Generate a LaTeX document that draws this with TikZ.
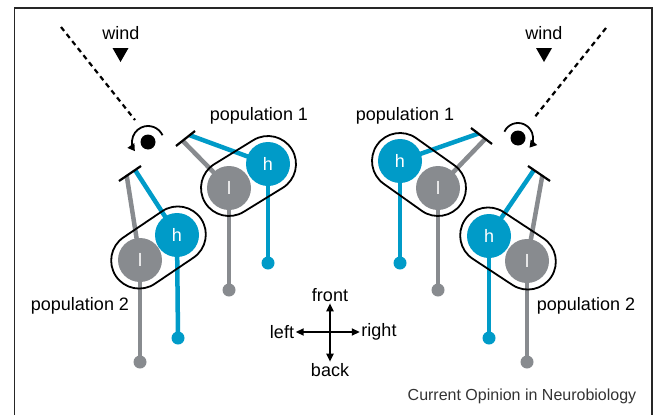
\documentclass[tikz,border=0pt]{standalone}
\usepackage{fontspec}
\setmainfont{Liberation Sans}
\usetikzlibrary{arrows.meta,calc,backgrounds}
\definecolor{nblue}{RGB}{0,155,200}
\definecolor{ngray}{RGB}{136,139,143}
\begin{document}
\begin{tikzpicture}[x=1pt,y=-1pt,
  lab/.style={font=\fontsize{18}{20}\selectfont, inner sep=1.5pt},
  hcell/.style={circle, fill=nblue, minimum size=44pt, inner sep=0pt, text=white,
    font=\fontsize{18}{20}\selectfont},
  lcell/.style={hcell, fill=ngray},
  hend/.style={circle, fill=nblue, minimum size=13pt, inner sep=0pt},
  lend/.style={hend, fill=ngray},
  hwire/.style={nblue, line width=4.5pt},
  lwire/.style={ngray, line width=4.5pt},
  tether/.style={line width=2.2pt, black},
  pill/.style={draw, line width=1.8pt, rounded corners=28pt, minimum height=56pt, inner sep=0pt},
  pivot/.style={circle, fill=black, minimum size=15pt, inner sep=0pt},
  spin/.style={line width=1.8pt, -{Triangle[length=7pt,width=8pt]}},
  windline/.style={line width=2.2pt, dash pattern=on 5pt off 4pt},
  compass/.style={line width=1.8pt, -{Triangle[length=8pt,width=7pt]}},
]
\useasboundingbox (0,0) rectangle (653,415);

% frame, open at the bottom
\draw[line width=1.5pt, black!85] (14.5,415) -- (14.5,8) -- (652,8) -- (652,415);

% ---------- wind markers ----------
\node[lab] (windL) at (121,33) {wind};
\node[lab] (windR) at (544,33) {wind};
\fill (112.5,48) -- (128.5,48) -- (120.5,62) -- cycle;
\fill (536,48) -- (552,48) -- (544,62) -- cycle;

% ---------- pivots with rotation arrows ----------
\node[pivot] (pvL) at (148,142) {};
\node[pivot] (pvR) at (518,138) {};
\coordinate (farL) at (61,27);
\coordinate (farR) at (606,28);
\coordinate (nearL) at (135,120);
\coordinate (nearR) at (534,118);
\draw[windline] (farL) -- (nearL);
\draw[windline] (farR) -- (nearR);
\draw[spin] ($(pvL)+(-25:16)$) arc[start angle=-25, end angle=-215, radius=16];
\draw[spin] ($(pvR)+(-155:15)$) arc[start angle=-155, end angle=40, radius=15];

% ---------- cells ----------
\node[lcell] (l1) at (229,188) {l};
\node[hcell] (h1) at (268,164) {h};
\node[lcell] (l2) at (140,260) {l};
\node[hcell] (h2) at (177,235) {h};
\node[hcell] (h3) at (400,161) {h};
\node[lcell] (l3) at (438,188) {l};
\node[hcell] (h4) at (489,236) {h};
\node[lcell] (l4) at (527,261) {l};

% axon terminals
\node[lend] (l1e) at (229,290) {};
\node[hend] (h1e) at (268,263) {};
\node[lend] (l2e) at (140,362) {};
\node[hend] (h2e) at (178,338) {};
\node[hend] (h3e) at (400,263) {};
\node[lend] (l3e) at (438,290) {};
\node[hend] (h4e) at (489,338) {};
\node[lend] (l4e) at (527,362) {};

% capsules grouping the cells of one population
\path let \p1=($(h1)-(l1)$) in node[pill, rotate={atan2(\y1,\x1)}, minimum width={veclen(\x1,\y1)+56}] (cap1) at ($(l1)!0.5!(h1)$) {};
\path let \p1=($(h2)-(l2)$) in node[pill, rotate={atan2(\y1,\x1)}, minimum width={veclen(\x1,\y1)+58}] (cap2) at ($(l2)!0.5!(h2)$) {};
\path let \p1=($(l3)-(h3)$) in node[pill, rotate={atan2(\y1,\x1)}, minimum width={veclen(\x1,\y1)+56}] (cap3) at ($(h3)!0.5!(l3)$) {};
\path let \p1=($(l4)-(h4)$) in node[pill, rotate={atan2(\y1,\x1)}, minimum width={veclen(\x1,\y1)+58}] (cap4) at ($(h4)!0.5!(l4)$) {};

% tethers (hair ends)
\coordinate (t1a) at (176,146); \coordinate (t1b) at (195,131);
\coordinate (t2a) at (119,181); \coordinate (t2b) at (141,166);
\coordinate (t3a) at (471,128); \coordinate (t3b) at (492,144);
\coordinate (t4a) at (528,166); \coordinate (t4b) at (550,181);
\draw[tether] (t1a) -- (t1b);
\draw[tether] (t2a) -- (t2b);
\draw[tether] (t3a) -- (t3b);
\draw[tether] (t4a) -- (t4b);
\coordinate (g1) at ($(t1a)!0.35!(t1b)$); \coordinate (b1) at ($(t1a)!0.72!(t1b)$);
\coordinate (g2) at ($(t2a)!0.35!(t2b)$); \coordinate (b2) at ($(t2a)!0.73!(t2b)$);
\coordinate (b3) at ($(t3a)!0.35!(t3b)$); \coordinate (g3) at ($(t3a)!0.68!(t3b)$);
\coordinate (b4) at ($(t4a)!0.27!(t4b)$); \coordinate (g4) at ($(t4a)!0.65!(t4b)$);

\begin{pgfonlayer}{background}
  \draw[lwire] (g1) -- (l1.center);  \draw[hwire] (b1) -- (h1.center);
  \draw[lwire] (g2) -- (l2.center);  \draw[hwire] (b2) -- (h2.center);
  \draw[lwire] (g3) -- (l3.center);  \draw[hwire] (b3) -- (h3.center);
  \draw[lwire] (g4) -- (l4.center);  \draw[hwire] (b4) -- (h4.center);
  \draw[lwire] (l1.center) -- (l1e.center);  \draw[hwire] (h1.center) -- (h1e.center);
  \draw[lwire] (l2.center) -- (l2e.center);  \draw[hwire] (h2.center) -- (h2e.center);
  \draw[lwire] (l3.center) -- (l3e.center);  \draw[hwire] (h3.center) -- (h3e.center);
  \draw[lwire] (l4.center) -- (l4e.center);  \draw[hwire] (h4.center) -- (h4e.center);
\end{pgfonlayer}

% ---------- labels ----------
\node[lab] (pop1L) at (259,116) {population 1};
\node[lab] (pop1R) at (405,116) {population 1};
\node[lab] (pop2L) at (80,306) {population 2};
\node[lab] (pop2R) at (586,306) {population 2};

% ---------- compass ----------
\coordinate (cc) at (330,332);
\node[lab] (front) at (330,295) {front};
\node[lab] (back)  at (330,370) {back};
\node[lab] (left)  at (282,332) {left};
\node[lab] (right) at (379,332) {right};
\draw[compass] (cc) -- (front.south);
\draw[compass] (cc) -- (back.north);
\draw[compass] (cc) -- (left.east);
\draw[compass] (cc) -- (right.west);

\node[font=\fontsize{16}{18}\selectfont, text=black!80, inner sep=0pt] (credit) at (522,396) {Current Opinion in Neurobiology};
\end{tikzpicture}
\end{document}
